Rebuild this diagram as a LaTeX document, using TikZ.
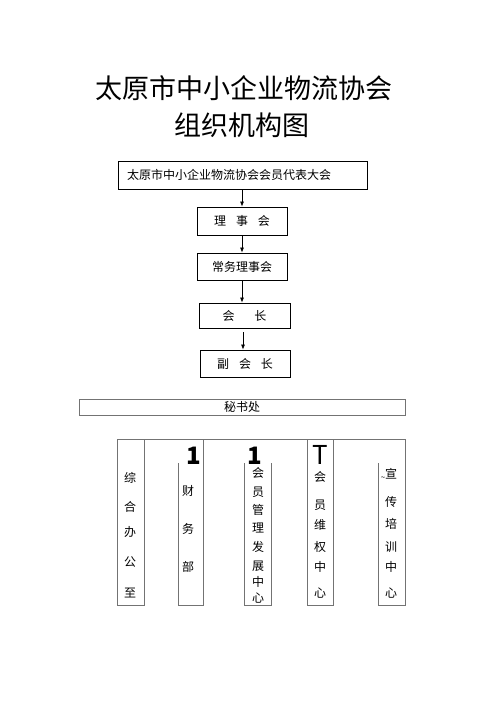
\documentclass[tikz,border=0pt]{standalone}
\usepackage{fontspec}
\setmainfont{Noto Sans CJK SC}
\usetikzlibrary{arrows.meta}
\usetikzlibrary{positioning}

\begin{document}
\begin{tikzpicture}[x=1pt, y=-1pt,
    box/.style={draw=black, line width=0.8pt, inner sep=0pt, font=\fontsize{12}{14}\selectfont},
    col/.style={inner sep=0pt, font=\fontsize{12}{14}\selectfont},
    bignum/.style={inner sep=0pt, font=\fontsize{24}{26}\selectfont\bfseries},
    frame/.style={draw=black!55, line width=0.7pt},
    flow/.style={-{Latex[length=5pt,width=4pt]}, line width=0.7pt}
]
    \useasboundingbox (0,0) rectangle (500,708);
    % title
    \node[inner sep=0pt, font=\fontsize{27}{30}\selectfont] (t1) at (244,88) {太原市中小企业物流协会};
    \node[inner sep=0pt, font=\fontsize{27}{30}\selectfont] (t2) at (242,125) {组织机构图};
    % upper chain
    \node[box, minimum width=249pt, minimum height=28pt, inner xsep=9pt, text width=231pt, align=left] (dahui) at (242.5,175) {太原市中小企业物流协会会员代表大会};
    \node[box, minimum width=90pt, minimum height=28pt] (lsh) at (242,221) {理\hspace{10pt}事\hspace{10pt}会};
    \node[box, minimum width=90pt, minimum height=27pt] (cwlsh) at (242,266.5) {常务理事会};
    \node[box, minimum width=91pt, minimum height=25pt] (hz) at (244.5,315.5) {会\hspace{20pt}长};
    \node[box, minimum width=90pt, minimum height=27pt] (fhz) at (245,363.5) {副\hspace{10pt}会\hspace{10pt}长};
    \coordinate (hzb) at (243,332);
    \draw[flow] (dahui.south -| lsh) -- (lsh.north);
    \draw[flow] (lsh) -- (cwlsh);
    \draw[flow] (cwlsh.south) -- (cwlsh.south |- hz.north);
    \draw[flow] (hzb) -- (hzb |- fhz.north);
    % secretariat
    \node[frame, minimum width=326pt, minimum height=16pt, inner sep=0pt, font=\fontsize{12}{14}\selectfont] (msc) at (242,407) {秘书处};
    % departments
    \draw[frame] (117,439) -- (405,439);
    \draw[frame] (117,439) rectangle (144,605);
    \draw[frame] (203,439) -- (203,605) -- (178,605) -- (178,463);
    \draw[frame] (244,463) -- (244,605) -- (271,605) -- (271,463);
    \draw[frame] (307,439) rectangle (333,605);
    \draw[frame] (405,439) -- (405,605) -- (378,605) -- (378,463);
    \node[bignum] (one1) at (194,456) {1};
    \node[bignum] (one2) at (255,456) {1};
    \node[inner sep=0pt, font=\fontsize{26}{28}\selectfont] (tee) at (320,455) {T};
    \foreach \ch/\y [count=\i] in {综/478, 合/507, 办/532, 公/562, 至/593}
        \node[col] (za\i) at (130,\y) {\ch};
    \foreach \ch/\y [count=\i] in {财/491, 务/529, 部/567}
        \node[col] (cw\i) at (188,\y) {\ch};
    \foreach \ch/\y [count=\i] in {会/473, 员/492, 管/510, 理/528, 发/547, 展/566, 中/582, 心/598}
        \node[col] (hy\i) at (258,\y) {\ch};
    \foreach \ch/\y [count=\i] in {会/477, 员/505, 维/525, 权/547, 中/567, 心/593}
        \node[col] (wq\i) at (320,\y) {\ch};
    \node[col] (xc0) at (389,474) {\raisebox{-2pt}{\fontsize{8}{8}\selectfont\char"007E}宣};
    \foreach \ch/\y [count=\i] in {传/502, 培/524, 训/547, 中/567, 心/593}
        \node[col] (xc\i) at (391,\y) {\ch};
\end{tikzpicture}
\end{document}
